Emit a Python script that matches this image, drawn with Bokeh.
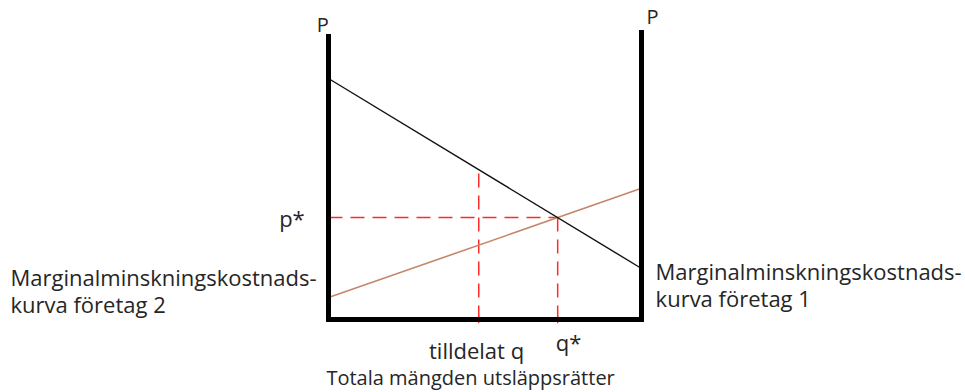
from bokeh.plotting import figure
from bokeh.models import Range1d
from bokeh.core.properties import value
from bokeh.embed import file_html
from bokeh.resources import INLINE

# Quantity axis runs 0..100 between the two firms' price axes
q_left = 0.0
q_right = 100.0
axis_top_left = 90.4
axis_top_right = 91.7

# Marginal abatement cost curves (price at left and right axis)
mac1_ends = [77.0, 16.3]   # firm 1, falling
mac2_ends = [7.0, 41.9]    # firm 2, rising
q_allocated = 48.0

# Labels
p_label = "P"
pstar_label = "p*"
qstar_label = "q*"
alloc_label = "tilldelat q"
x_title = "Totala mängden utsläppsrätter"
firm2_label = ["Marginalminskningskostnads-", "kurva företag 2"]
firm1_label = ["Marginalminskningskostnads-", "kurva företag 1"]

# Equilibrium where the two curves cross
s1 = (mac1_ends[1] - mac1_ends[0]) / (q_right - q_left)
s2 = (mac2_ends[1] - mac2_ends[0]) / (q_right - q_left)
q_star = (mac2_ends[0] - mac1_ends[0]) / (s1 - s2)
p_star = mac1_ends[0] + s1 * q_star
p_alloc = mac1_ends[0] + s1 * q_allocated

PX = 3.13  # pixels per data unit
W, H = 965, 392
x0_px, y0_px = 328, 319

p = figure(width=W, height=H, output_backend="svg", toolbar_location=None,
           min_border=0)
p.x_range = Range1d(-x0_px / PX, (W - x0_px) / PX)
p.y_range = Range1d(-(H - y0_px) / PX, y0_px / PX)
p.axis.visible = False
p.grid.visible = False
p.outline_line_color = None
p.background_fill_color = "white"
p.border_fill_color = "white"

red = "#ff2a2a"
dash = "14 8"
# dashed guides
p.segment(x0=[q_left, q_star, q_allocated], y0=[p_star, 0, 0],
          x1=[q_star, q_star, q_allocated], y1=[p_star, p_star, p_alloc],
          line_color=red, line_width=1.5, line_dash=dash)
# small red ticks
p.segment(x0=[q_allocated, q_star], y0=[-1.2, -1.2], x1=[q_allocated, q_star], y1=[1.2, 1.2],
          line_color=red, line_width=1.2)

# curves
p.line([q_left, q_right], mac2_ends, line_color="#c4876a", line_width=1.6)
p.line([q_left, q_right], mac1_ends, line_color="#111111", line_width=1.4)

# frame: two price axes and the quantity axis
p.segment(x0=[q_left, q_right, q_left], y0=[0, 0, 0],
          x1=[q_left, q_right, q_right], y1=[axis_top_left, axis_top_right, 0],
          line_color="black", line_width=5, line_cap="square")

font = value("Open Sans")
tc = "#262626"
fs = "22px"

def txt(x, y, t, align="left", size=fs):
    p.text(x=[x], y=[y], text=[t], text_font=font, text_font_size=size,
           text_color=tc, text_align=align, text_baseline="middle")

txt(-1.8, axis_top_left + 3.8, p_label, "center", size="20px")
txt(q_right + 3.5, axis_top_right + 5.0, p_label, "center", size="20px")
txt(-7.6, p_star, pstar_label, "right")
txt(76.7, -7.3, qstar_label, "center")
txt(47.3, -9.6, alloc_label, "center")
txt(45.4, -18.4, x_title, "center", size="20px")
txt(-101.6, 13.6, firm2_label[0], "left")
txt(-101.6, 5.0, firm2_label[1], "left")
txt(104.5, 15.5, firm1_label[0], "left")
txt(104.5, 7.0, firm1_label[1], "left")

open("out.html", "w").write(file_html(p, INLINE))
